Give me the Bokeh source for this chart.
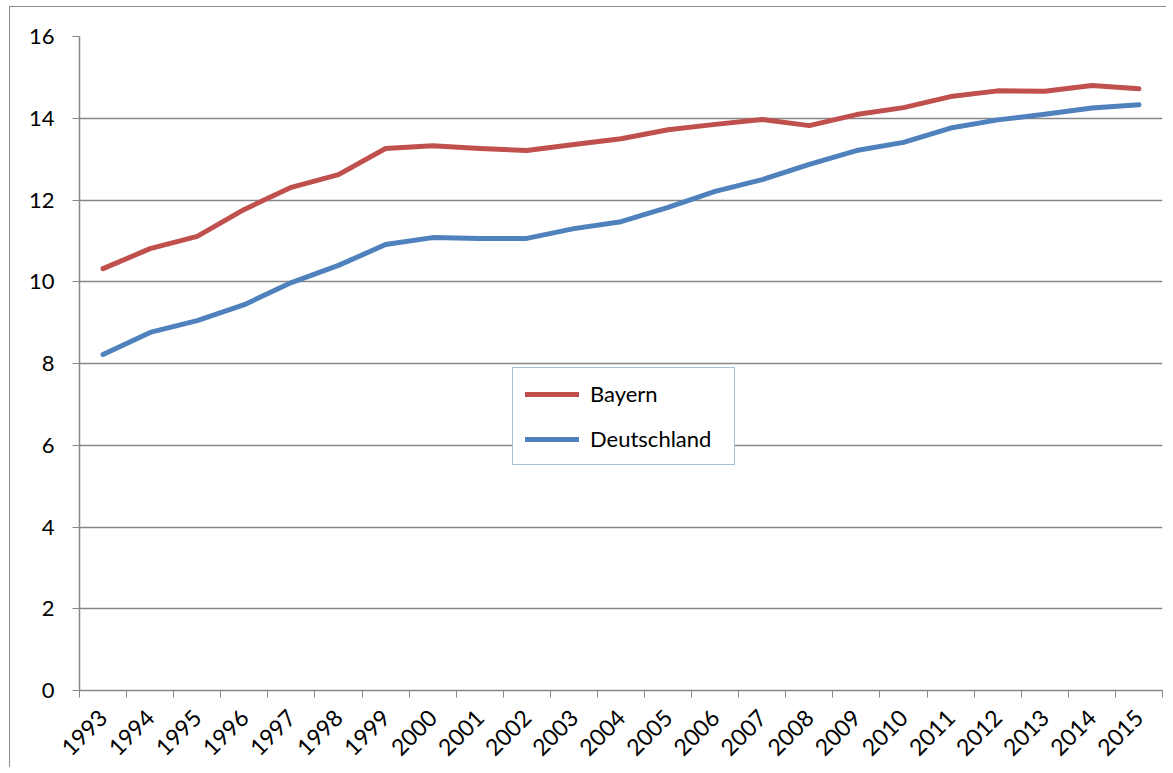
import math
from bokeh.plotting import figure
from bokeh.models import FixedTicker, Legend, LegendItem, ColumnDataSource
from bokeh.embed import file_html
from bokeh.resources import INLINE

years = [str(y) for y in range(1993, 2016)]
bayern = [10.32, 10.81, 11.11, 11.77, 12.31, 12.62, 13.26, 13.33, 13.26, 13.21, 13.36, 13.50,
          13.72, 13.85, 13.97, 13.82, 14.09, 14.26, 14.53, 14.67, 14.66, 14.80, 14.72]
deutschland = [8.22, 8.76, 9.05, 9.44, 9.98, 10.40, 10.91, 11.08, 11.06, 11.06, 11.30, 11.47,
               11.82, 12.21, 12.50, 12.87, 13.21, 13.41, 13.76, 13.96, 14.10, 14.25, 14.33]
y_ticks = [0, 2, 4, 6, 8, 10, 12, 14, 16]

n = len(years)
xs = [i + 0.5 for i in range(n)]
src = ColumnDataSource(dict(x=xs, bayern=bayern, deutschland=deutschland))

FONT = "Lato"
GRAY = "#878787"

p = figure(width=1156, height=760, frame_width=1083, frame_height=654,
           x_range=(0, n), y_range=(0, 16),
           output_backend="svg", toolbar_location=None,
           min_border_left=69, min_border_top=29, min_border_right=4, min_border_bottom=77)
p.styles = {"border-left": "1px solid #8c8c8c", "border-top": "1px solid #8c8c8c",
            "margin-left": "9px", "margin-top": "6px"}
p.outline_line_color = None
p.background_fill_color = "white"
p.border_fill_color = "white"

# x axis
p.xaxis.ticker = FixedTicker(ticks=xs, minor_ticks=list(range(n + 1)))
p.xaxis.major_label_overrides = {x: y for x, y in zip(xs, years)}
p.xaxis.major_tick_out = 0
p.xaxis.major_tick_in = 0
p.xaxis.minor_tick_out = 7
p.xaxis.minor_tick_in = 0
p.xaxis.minor_tick_line_color = GRAY
p.xaxis.axis_line_color = GRAY
p.xaxis.axis_line_width = 1.5
p.xaxis.major_label_orientation = math.pi / 4
p.xaxis.major_label_text_font = FONT
p.xaxis.major_label_text_font_size = "23px"
p.xaxis.major_label_text_color = "black"
p.xaxis.major_label_standoff = 16
p.xgrid.grid_line_color = None

# y axis
p.yaxis.ticker = FixedTicker(ticks=y_ticks)
p.yaxis.minor_tick_line_color = None
p.yaxis.major_tick_out = 7
p.yaxis.major_tick_in = 0
p.yaxis.major_tick_line_color = GRAY
p.yaxis.axis_line_color = GRAY
p.yaxis.axis_line_width = 1.5
p.yaxis.major_label_text_font = FONT
p.yaxis.major_label_text_font_size = "22px"
p.yaxis.major_label_text_color = "black"
p.yaxis.major_label_standoff = 18
p.ygrid.grid_line_color = GRAY
p.ygrid.grid_line_width = 1.5

r1 = p.line("x", "bayern", source=src, line_color="#C0504D", line_width=5,
            line_cap="round", line_join="round")
r2 = p.line("x", "deutschland", source=src, line_color="#4F81BD", line_width=5,
            line_cap="round", line_join="round")

legend = Legend(items=[LegendItem(label="Bayern", renderers=[r1]),
                       LegendItem(label="Deutschland", renderers=[r2])],
                location=(433, 225))
legend.border_line_color = "#4F81BD"
legend.border_line_width = 1.5
legend.background_fill_color = "white"
legend.background_fill_alpha = 1
legend.label_text_font = FONT
legend.label_text_font_size = "22px"
legend.label_text_color = "black"
legend.glyph_width = 54
legend.glyph_height = 24
legend.label_height = 24
legend.label_width = 132
legend.label_standoff = 11
legend.padding = 12
legend.spacing = 18
legend.margin = 0
p.add_layout(legend, "center")

open("out.html", "w").write(file_html(p, INLINE))
